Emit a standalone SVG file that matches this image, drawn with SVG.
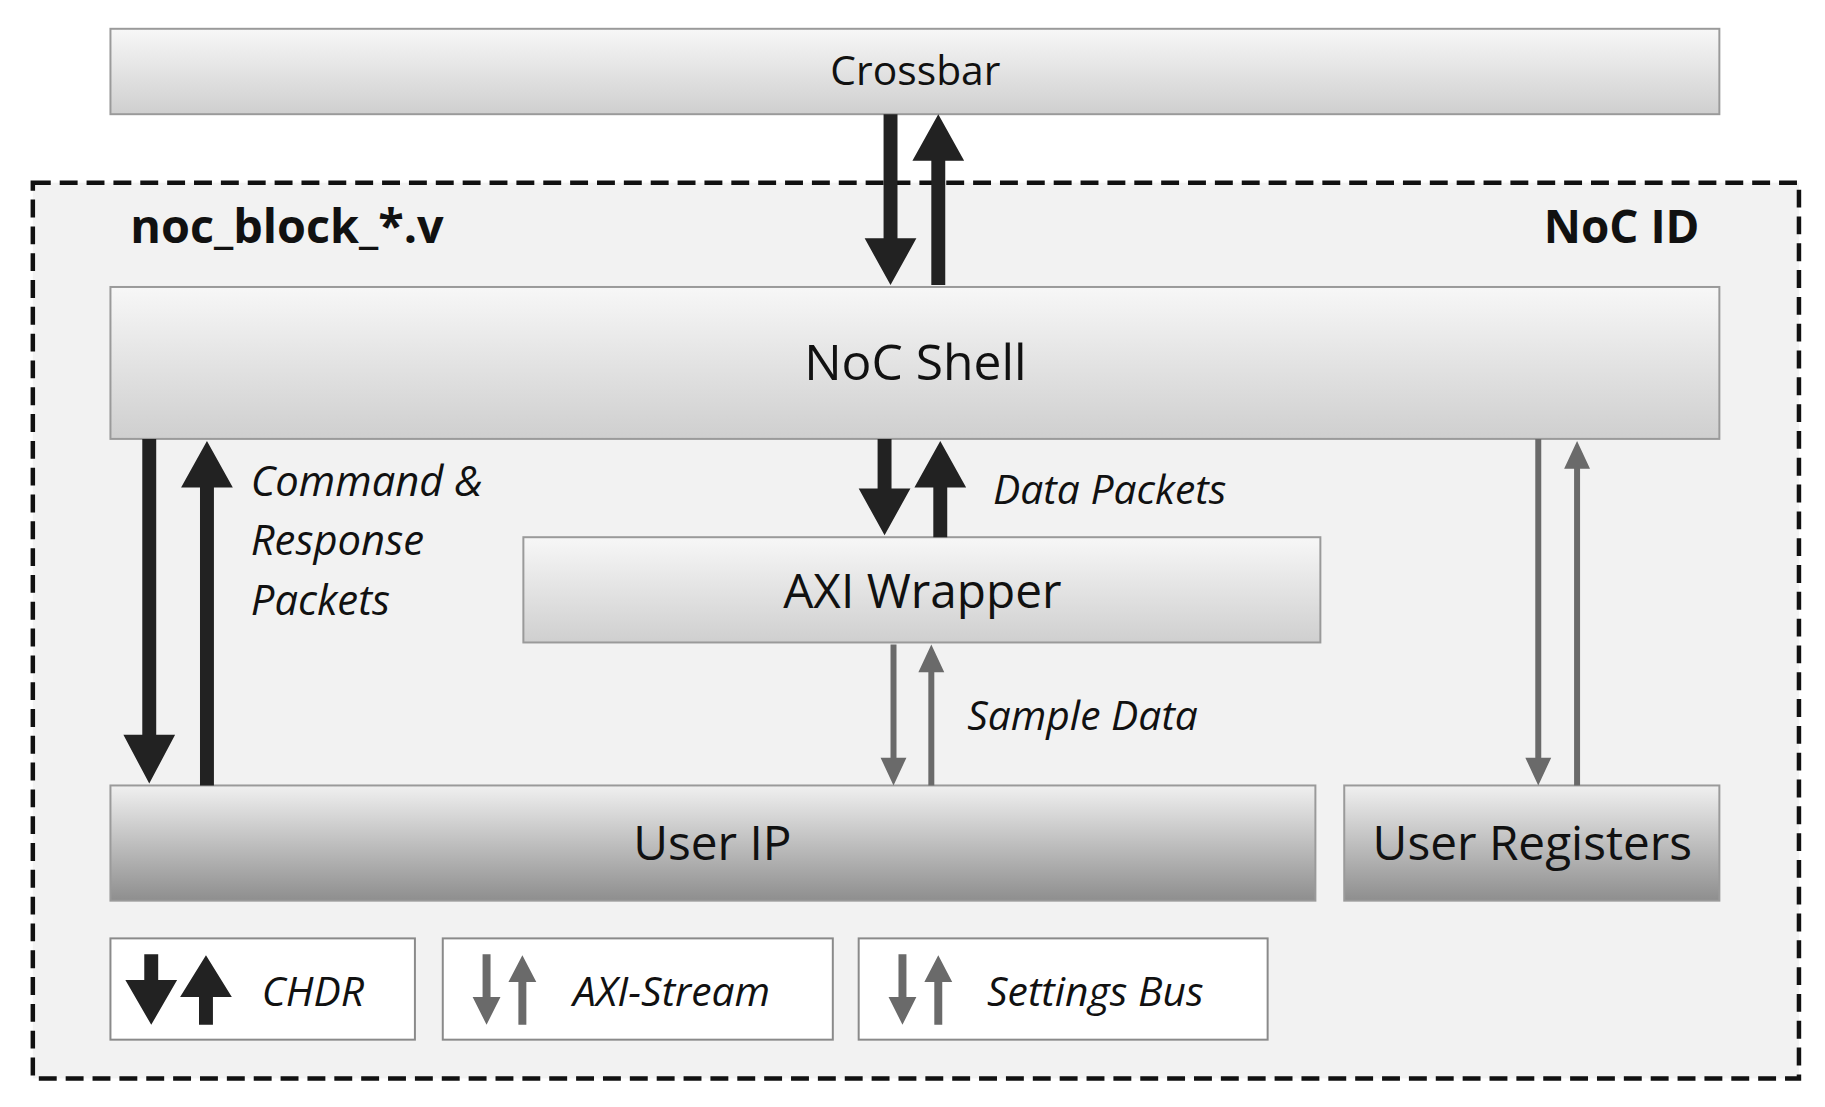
<svg xmlns="http://www.w3.org/2000/svg" width="1825" height="1107" viewBox="0 0 1825 1107">
<defs>
<linearGradient id="g1" x1="0" y1="0" x2="0" y2="1"><stop offset="0" stop-color="#f7f7f7"/><stop offset="1" stop-color="#cfcfcf"/></linearGradient>
<linearGradient id="g2" x1="0" y1="0" x2="0" y2="1"><stop offset="0" stop-color="#f0f0f0"/><stop offset="1" stop-color="#8e8e8e"/></linearGradient>
</defs>
<style>
.box{stroke:#9a9a9a;stroke-width:2}
.t{font-family:"Open Sans","Liberation Sans",sans-serif;fill:#111;text-anchor:middle}
.i{font-family:"Open Sans","Liberation Sans",sans-serif;font-style:italic;fill:#111}
.b{font-family:"Open Sans","Liberation Sans",sans-serif;font-weight:bold;fill:#111}
.k{fill:#222}.g{fill:#6a6a6a}
</style>
<rect width="1825" height="1107" fill="#fff"/>
<g transform="scale(0.995 0.993)">
<rect x="33" y="184" width="1775" height="902" fill="#f2f2f2" stroke="#111" stroke-width="4.5" stroke-dasharray="18,9"/>
<g id="crossbar"><rect class="box" x="111" y="29" width="1617" height="86" fill="url(#g1)"/><text class="t" x="920" y="86" font-size="41">Crossbar</text></g>
<g id="label"><text class="b" x="131" y="245" font-size="47">noc_block_*.v</text><text class="b" x="1708" y="245" font-size="46" text-anchor="end">NoC ID</text></g>
<g id="nocshell"><rect class="box" x="111" y="289" width="1617" height="153" fill="url(#g1)"/><text class="t" x="920" y="383" font-size="50">NoC Shell</text></g>
<g id="axiwrapper"><rect class="box" x="526" y="541" width="801" height="106" fill="url(#g1)"/><text class="t" x="927" y="612" font-size="48">AXI Wrapper</text></g>
<g id="userip"><rect class="box" x="111" y="791" width="1211" height="116" fill="url(#g2)"/><text class="t" x="716" y="866" font-size="48">User IP</text></g>
<g id="userregs"><rect class="box" x="1351" y="791" width="377" height="116" fill="url(#g2)"/><text class="t" x="1540" y="866" font-size="48">User Registers</text></g>
<g id="connectors">
<polygon class="k" points="888,115 902,115 902,240 921,240 895,287 869,240 888,240"/>
<polygon class="k" points="936,287 950,287 950,162 969,162 943,115 917,162 936,162"/>
<polygon class="k" points="143,442 157,442 157,740 176,740 150,789 124,740 143,740"/>
<polygon class="k" points="201,791 215,791 215,491 234,491 208,444 182,491 201,491"/>
<polygon class="k" points="882,442 896,442 896,492 915,492 889,539 863,492 882,492"/>
<polygon class="k" points="938,541 952,541 952,491 971,491 945,444 919,491 938,491"/>
<polygon class="g" points="895,649 901,649 901,763 911,763 898,791 885,763 895,763"/>
<polygon class="g" points="933,791 939,791 939,677 949,677 936,649 923,677 933,677"/>
<polygon class="g" points="1543,442 1549,442 1549,763 1559,763 1546,791 1533,763 1543,763"/>
<polygon class="g" points="1582,791 1588,791 1588,472 1598,472 1585,444 1572,472 1582,472"/>
<text class="i" x="252" y="500" font-size="42">Command &amp;</text>
<text class="i" x="252" y="559" font-size="42">Response</text>
<text class="i" x="252" y="619" font-size="42">Packets</text>
<text class="i" x="998" y="508" font-size="41">Data Packets</text>
<text class="i" x="972" y="735" font-size="41">Sample Data</text>
</g>
<g id="legend-chdr"><rect x="111" y="945" width="306" height="102" fill="#fff" stroke="#8a8a8a" stroke-width="2"/>
<polygon class="k" points="145,961 159,961 159,987 178,987 152,1032 126,987 145,987"/>
<polygon class="k" points="200,1032 214,1032 214,1004 233,1004 207,962 181,1004 200,1004"/>
<text class="i" x="263" y="1013" font-size="41">CHDR</text></g>
<g id="legend-axis"><rect x="445" y="945" width="392" height="102" fill="#fff" stroke="#8a8a8a" stroke-width="2"/>
<polygon class="g" points="485,961 493,961 493,1004 503,1004 489,1032 475,1004 485,1004"/>
<polygon class="g" points="521,1032 529,1032 529,989 539,989 525,962 511,989 521,989"/>
<text class="i" x="576" y="1013" font-size="41">AXI-Stream</text></g>
<g id="legend-settings"><rect x="863" y="945" width="411" height="102" fill="#fff" stroke="#8a8a8a" stroke-width="2"/>
<polygon class="g" points="903,961 911,961 911,1004 921,1004 907,1032 893,1004 903,1004"/>
<polygon class="g" points="939,1032 947,1032 947,989 957,989 943,962 929,989 939,989"/>
<text class="i" x="992" y="1013" font-size="41">Settings Bus</text></g>
</g>
</svg>
